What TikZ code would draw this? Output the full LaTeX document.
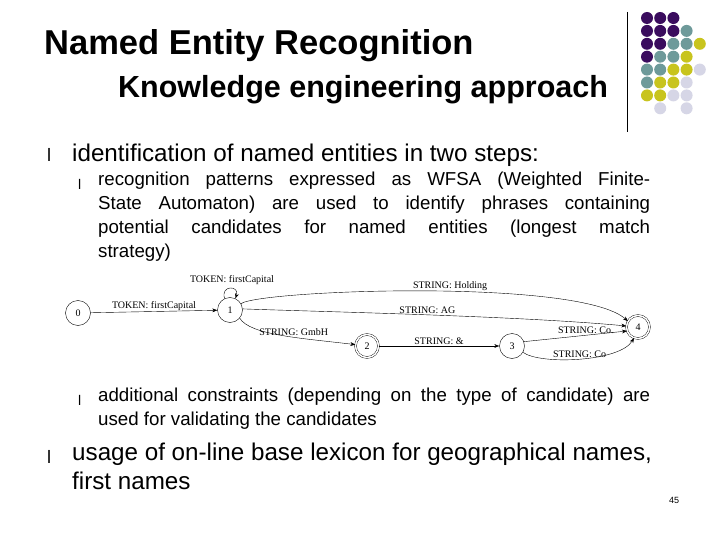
\documentclass[tikz,border=0pt]{standalone}
\usepackage{fontspec}
\setmainfont{Liberation Sans}
\newfontfamily\serifa{Liberation Serif}
\usetikzlibrary{arrows.meta}
\definecolor{cP}{HTML}{3A0C5E}
\definecolor{cT}{HTML}{6E9A9A}
\definecolor{cY}{HTML}{C8C41E}
\definecolor{cL}{HTML}{D6D6E6}
\begin{document}
\begin{tikzpicture}[x=1pt,y=-1pt,
  txt/.style={anchor=west,inner sep=0pt,font=\fontsize{24.2}{28}\selectfont},
  sub/.style={anchor=north west,inner sep=0pt,align=justify,text width=552pt,font=\fontsize{18.7}{24}\selectfont},
  st/.style={circle,draw,minimum size=25pt,inner sep=0pt,font=\serifa\fontsize{10}{11}\selectfont},
  acc/.style={st,double,double distance=1.5pt,minimum size=23pt},
  lab/.style={font=\serifa\fontsize{10}{11}\selectfont,inner sep=1pt},
  tr/.style={-{Stealth[length=5pt]},thin}]
\useasboundingbox (0,0) rectangle (720,540);
\fill[white] (0,0) rectangle (720,540);
\node[anchor=west,inner sep=0pt,font=\bfseries\fontsize{34.5}{38}\selectfont] (t) at (44,46) {Named Entity Recognition};
\node[anchor=west,inner sep=0pt,font=\bfseries\fontsize{30.5}{34}\selectfont] (t2) at (118,90) {Knowledge engineering approach};
\draw[thick] (627,12) -- (627,132);
\foreach \c/\r/\k in {0/0/cP,1/0/cP,2/0/cP,
 0/1/cP,1/1/cP,2/1/cP,3/1/cT,
 0/2/cP,1/2/cP,2/2/cT,3/2/cT,4/2/cY,
 0/3/cP,1/3/cT,2/3/cT,3/3/cY,
 0/4/cT,1/4/cT,2/4/cY,3/4/cY,4/4/cL,
 0/5/cT,1/5/cY,2/5/cY,3/5/cL,
 0/6/cY,1/6/cY,2/6/cL,3/6/cL,
 1/7/cL,3/7/cL}
 \fill[\k] (647+13.2*\c,18+12.9*\r) circle (6);
\node[txt,font=\fontsize{18}{20}\selectfont] (b1) at (47,155) {l};
\node[txt] (b1t) at (72,155) {identification of named entities in two steps:};
\node[txt,font=\fontsize{14}{16}\selectfont] (s1) at (78,184) {l};
\node[sub] (s1t) at (98,172) {\hyphenpenalty=10000 recognition patterns expressed as WFSA (Weighted Finite-\linebreak State Automaton) are used to identify phrases containing\linebreak potential candidates for named entities (longest match\linebreak strategy)};
\node[txt,font=\fontsize{14}{16}\selectfont] (s2) at (78,400) {l};
\node[sub] (s2t) at (98,388) {\hyphenpenalty=10000 additional constraints (depending on the type of candidate) are\linebreak used for validating the candidates};
\node[txt,font=\fontsize{18}{20}\selectfont] (b2) at (47,457) {l};
\node[anchor=north west,inner sep=0pt,align=left,font=\fontsize{24.2}{29}\selectfont] (b2t) at (72,443) {usage of on-line base lexicon for geographical names,\\first names};
\node[font=\fontsize{9}{10}\selectfont] (pg) at (674,500) {45};
% automaton
\node[st] (n0) at (78,313) {0};
\node[st] (n1) at (230,310) {1};
\node[acc] (n2) at (367,346) {2};
\node[st] (n3) at (512,346) {3};
\node[acc] (n4) at (638,327) {4};
\draw[tr] (n0) -- node[lab,above] {TOKEN: firstCapital} (n1);
\draw[tr] (n1.115) .. controls (220,285) and (240,285) .. (n1.65);
\node[lab] (l1) at (232,280) {TOKEN: firstCapital};
\draw[tr] (n1.30) .. controls (260,290) and (580,278) .. node[lab,above,pos=0.55] {STRING: Holding} (n4.150);
\draw[tr] (n1.5) .. controls (330,312) and (520,316) .. node[lab,above,pos=0.5] {STRING: AG} (n4.175);
\draw[tr] (n1.-40) .. controls (250,335) and (300,338) .. node[lab,above,pos=0.6] {STRING: GmbH} (n2);
\draw[tr] (n2) -- node[lab,above] {STRING: \&} (n3);
\draw[tr] (n3.20) -- node[lab,above,pos=0.6] {STRING: Co.} (n4.200);
\draw[tr] (n3.-30) .. controls (540,365) and (620,362) .. node[lab,above,pos=0.5] {STRING: Co} (n4.-110);
\end{tikzpicture}
\end{document}
